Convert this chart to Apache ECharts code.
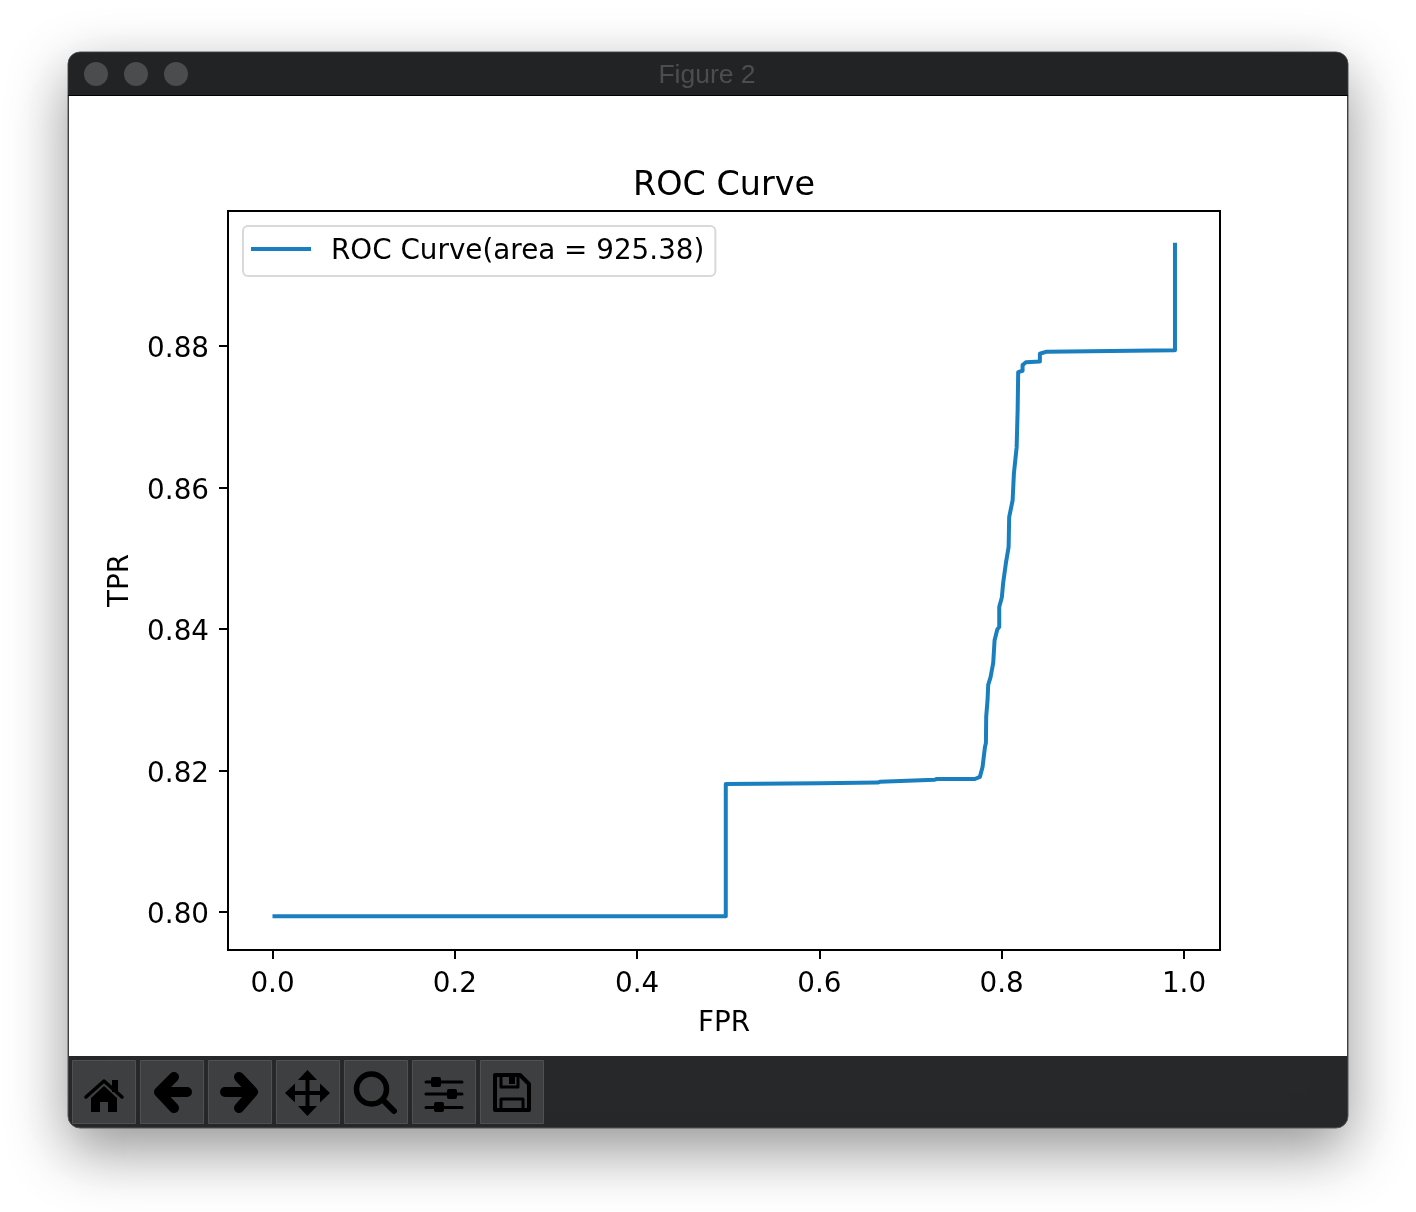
<!DOCTYPE html>
<html>
<head>
<meta charset="utf-8">
<title>ROC Curve</title>
<script src="https://cdn.jsdelivr.net/npm/echarts@6/dist/echarts.min.js"></script>
<style>
  html, body { margin: 0; padding: 0; background: #fff; }
  #chart { width: 1416px; height: 1212px; }
</style>
</head>
<body>
<div id="chart"></div>
<script>
// values
var fprValues = [0, 0.4973, 0.4973, 0.6004, 0.6641, 0.6663, 0.7267, 0.7289, 0.7706, 0.7761, 0.7790, 0.7816, 0.7827, 0.7830, 0.7845, 0.7852, 0.7878, 0.7907, 0.7922, 0.7951, 0.7973, 0.7973, 0.8002, 0.8016, 0.8046, 0.8076, 0.8082, 0.8120, 0.8134, 0.8164, 0.8175, 0.8181, 0.8229, 0.8229, 0.8266, 0.8419, 0.8419, 0.8493, 0.9901, 0.9901];
var tprValues = [0.7994, 0.7994, 0.8181, 0.8182, 0.8183, 0.8184, 0.8187, 0.8188, 0.8188, 0.8191, 0.8205, 0.8233, 0.8239, 0.8276, 0.8300, 0.8321, 0.8332, 0.8352, 0.8384, 0.8399, 0.8403, 0.8431, 0.8445, 0.8465, 0.8493, 0.8516, 0.8558, 0.8582, 0.8620, 0.8657, 0.8710, 0.8763, 0.8765, 0.8773, 0.8777, 0.8778, 0.8789, 0.8792, 0.8794, 0.8946];
var xTicks = [0, 0.2, 0.4, 0.6, 0.8, 1.0];
var yTicks = [0.80, 0.82, 0.84, 0.86, 0.88];
var seriesName = 'ROC Curve(area = 925.38)';

var FONT = '"DejaVu Sans"';
var lineColor = '#1a7fbe';

// 工具栏按钮 x 位置
var buttonX = [72, 140, 208, 276, 344, 412, 480];

function stroke(points, w) {
  return { type: 'polyline', z: -5, shape: { points: points }, style: { fill: 'none', stroke: '#000', lineWidth: w, lineCap: 'round', lineJoin: 'round' } };
}
function fill(points) {
  return { type: 'polygon', z: -5, shape: { points: points }, style: { fill: '#000' } };
}

function windowChrome() {
  var els = [
    // 窗口和阴影
    { type: 'rect', z: -10, shape: { x: 68, y: 52, width: 1280, height: 1076, r: 12 },
      style: { fill: '#27282a', stroke: '#55565a', lineWidth: 1, shadowBlur: 60, shadowOffsetY: 22, shadowColor: 'rgba(0,0,0,0.42)' } },
    { type: 'rect', z: -9, shape: { x: 68.5, y: 52.5, width: 1279, height: 44, r: [12, 12, 0, 0] },
      style: { fill: '#222325' } },
    { type: 'rect', z: -9, shape: { x: 68, y: 95, width: 1280, height: 1 }, style: { fill: '#000' } },
    { type: 'rect', z: -9, shape: { x: 69, y: 96, width: 1278, height: 960 }, style: { fill: '#fff' } },
    { type: 'text', z: -8, style: { x: 707, y: 76, text: 'Figure 2', fill: '#4c4d4f', font: '26.5px "Liberation Sans"', textAlign: 'center', textVerticalAlign: 'middle' } }
  ];
  [96, 136, 176].forEach(function (cx) {
    els.push({ type: 'circle', z: -8, shape: { cx: cx, cy: 74, r: 12 }, style: { fill: '#4b4c4e' } });
  });
  buttonX.forEach(function (x) {
    els.push({ type: 'rect', z: -8, shape: { x: x + 0.5, y: 1060.5, width: 63, height: 63 }, style: { fill: '#3e3f41', stroke: '#505153', lineWidth: 1 } });
  });
  // home
  els.push(stroke([[86, 1097], [104, 1081], [122, 1097]], 3.5));
  els.push(fill([[112, 1080], [118, 1080], [118, 1092], [112, 1092]]));
  els.push(fill([[104, 1086], [91, 1098], [91, 1112], [100, 1112], [100, 1102], [108, 1102], [108, 1112], [117, 1112], [117, 1098]]));
  // back / forward
  els.push(stroke([[174, 1077], [159, 1092], [174, 1108]], 10));
  els.push(stroke([[160, 1092], [187, 1092]], 10));
  els.push(stroke([[239, 1077], [253, 1092], [239, 1108]], 10));
  els.push(stroke([[225, 1092], [252, 1092]], 10));
  // move
  els.push(stroke([[307.5, 1076], [307.5, 1110]], 4));
  els.push(stroke([[291, 1093], [324, 1093]], 4));
  els.push(fill([[307.5, 1070], [317, 1080], [298, 1080]]));
  els.push(fill([[307.5, 1116], [317, 1106], [298, 1106]]));
  els.push(fill([[285, 1093], [295, 1083.5], [295, 1102.5]]));
  els.push(fill([[330, 1093], [320, 1083.5], [320, 1102.5]]));
  // zoom
  els.push({ type: 'circle', z: -5, shape: { cx: 371.5, cy: 1089, r: 15 }, style: { fill: 'none', stroke: '#000', lineWidth: 5.5 } });
  els.push(stroke([[384, 1101], [394, 1111]], 6));
  // sliders
  [1082, 1094, 1107.5].forEach(function (y) {
    els.push(stroke([[426, y], [462, y]], 3));
  });
  [[431, 1077], [447, 1089], [434, 1102]].forEach(function (p) {
    els.push({ type: 'rect', z: -5, shape: { x: p[0], y: p[1], width: 10, height: 10, r: 2 }, style: { fill: '#000' } });
  });
  // save
  els.push(stroke([[495, 1075], [520, 1075], [529, 1084], [529, 1110], [495, 1110], [495, 1075]], 4));
  els.push(stroke([[501, 1076], [501, 1087], [518, 1087], [518, 1076]], 3));
  els.push(fill([[509, 1075], [515, 1075], [515, 1084], [509, 1084]]));
  els.push(stroke([[501, 1110], [501, 1099], [523, 1099], [523, 1110]], 3));
  return els;
}

var myChart = echarts.init(document.getElementById('chart'));
var option = {
  animation: false,
  backgroundColor: '#fff',
  textStyle: { fontFamily: FONT },
  title: {
    text: 'ROC Curve',
    left: 719,
    top: 165,
    textAlign: 'center',
    textStyle: { color: '#000', fontWeight: 'normal', fontSize: 33.4, fontFamily: FONT }
  },
  legend: {
    left: 243,
    top: 226,
    padding: [12, 11, 10, 8],
    // 空的第二段让线条在图标框里靠上，和文字对齐
    data: [{ name: seriesName, icon: 'path://M0 0H60V4H0ZM0 10H60V10H0Z' }],
    itemWidth: 60,
    itemHeight: 10,
    backgroundColor: '#fff',
    borderColor: '#d9d9d9',
    borderWidth: 2,
    borderRadius: 5,
    textStyle: { color: '#000', fontSize: 27.8, fontFamily: FONT, padding: [0, 0, 0, 15] }
  },
  grid: {
    left: 228, top: 211, width: 992, height: 739,
    show: true, borderColor: '#000', borderWidth: 2, backgroundColor: 'transparent',
    containLabel: false
  },
  xAxis: {
    type: 'value',
    min: -0.0488,
    max: 1.0395,
    name: 'FPR',
    nameLocation: 'middle',
    nameGap: 60,
    nameTextStyle: { color: '#000', fontSize: 27.8, fontFamily: FONT },
    splitLine: { show: false },
    axisLine: { onZero: false, lineStyle: { color: '#000', width: 2 } },
    axisTick: { length: 9, lineStyle: { color: '#000', width: 2 }, customValues: xTicks },
    axisLabel: { color: '#000', fontSize: 27.8, fontFamily: FONT, margin: 21, customValues: xTicks,
      formatter: function (v) { return v.toFixed(1); } }
  },
  yAxis: {
    type: 'value',
    min: 0.79463,
    max: 0.89908,
    name: 'TPR',
    nameLocation: 'middle',
    nameGap: 93,
    nameTextStyle: { color: '#000', fontSize: 27.8, fontFamily: FONT },
    splitLine: { show: false },
    axisLine: { onZero: false, lineStyle: { color: '#000', width: 2 } },
    axisTick: { length: 9, lineStyle: { color: '#000', width: 2 }, customValues: yTicks },
    axisLabel: { color: '#000', fontSize: 27.8, fontFamily: FONT, margin: 19, verticalAlign: 'top', lineHeight: 8, customValues: yTicks,
      formatter: function (v) { return v.toFixed(2); } }
  },
  series: [{
    name: seriesName,
    type: 'line',
    showSymbol: false,
    symbol: 'none',
    lineStyle: { color: lineColor, width: 4, join: 'round' },
    itemStyle: { color: lineColor },
    data: fprValues.map(function (x, i) { return [x, tprValues[i]]; })
  }],
  graphic: { elements: windowChrome() }
};
myChart.setOption(option);
</script>
</body>
</html>
